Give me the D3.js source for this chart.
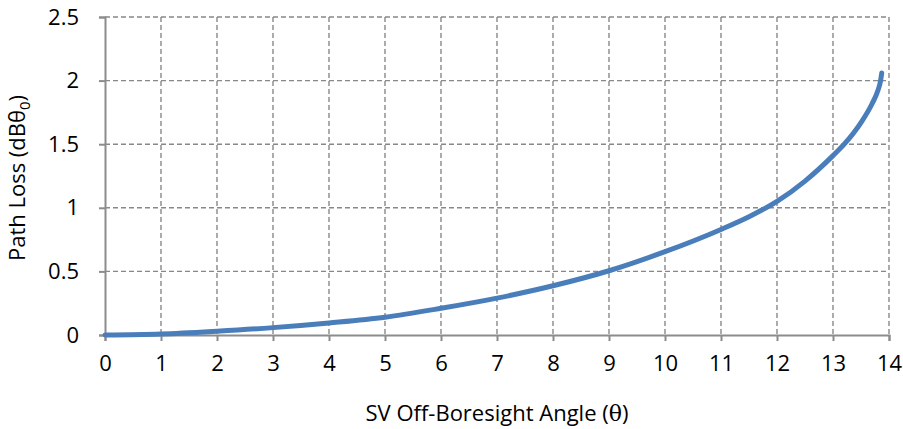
<!DOCTYPE html>
<html>
<head>
<meta charset="utf-8">
<script src="https://cdn.jsdelivr.net/npm/d3@7"></script>
<style>
  body { margin: 0; background: #fff; }
  text { font-family: "Open Sans", sans-serif; fill: #000; }
  .grid line { stroke: #888; stroke-dasharray: 5,3; stroke-width: 1.4px; }
</style>
</head>
<body>
<div id="chart-area"></div>
<script>
// off-boresight angle (deg) vs path loss
var angles = [0, 1, 2, 3, 4, 5, 6, 7, 8, 9, 10, 11, 11.5, 12, 12.5, 13, 13.2, 13.5, 13.7, 13.8, 13.85, 13.87];
var pathLoss = [0, 0.008, 0.03, 0.058, 0.095, 0.14, 0.21, 0.29, 0.387, 0.505, 0.655, 0.83, 0.93, 1.05, 1.21, 1.41, 1.5, 1.67, 1.82, 1.92, 2.0, 2.06];
var xTicks = d3.range(0, 15, 1);
var yTicks = [0, 0.5, 1, 1.5, 2, 2.5];

var margin = { left: 105, right: 14, top: 17, bottom: 94 };
var width = 903 - margin.left - margin.right;
var height = 429 - margin.top - margin.bottom;

var svg = d3.select("#chart-area")
    .append("svg")
        .attr("width", 903)
        .attr("height", 429)
    .append("g")
        .attr("transform", "translate(" + margin.left + "," + margin.top + ")");

var x = d3.scaleLinear().domain([0, 14]).range([0, width]);
var y = d3.scaleLinear().domain([0, 2.5]).range([height, 0]);

// dashed grid, including top and right border
svg.append("g").attr("class", "grid")
    .selectAll("line").data(xTicks.slice(1))
    .enter().append("line")
        .attr("x1", d => x(d)).attr("x2", d => x(d))
        .attr("y1", 0).attr("y2", height);

svg.append("g").attr("class", "grid")
    .selectAll("line").data(yTicks.slice(1))
    .enter().append("line")
        .attr("x1", 0).attr("x2", width)
        .attr("y1", d => y(d)).attr("y2", d => y(d));

var xAxis = svg.append("g")
    .attr("transform", "translate(0," + height + ")")
    .call(d3.axisBottom(x).tickValues(xTicks).tickSize(6).tickPadding(14).tickFormat(d3.format("d")));

var yAxis = svg.append("g")
    .call(d3.axisLeft(y).tickValues(yTicks).tickSize(6).tickPadding(20).tickFormat(d => d));

[xAxis, yAxis].forEach(function(a){
    a.select(".domain").attr("stroke", "#8c8c8c").attr("stroke-width", 2);
    a.selectAll(".tick line").attr("stroke", "#8c8c8c").attr("stroke-width", 2);
    a.selectAll(".tick text").attr("font-size", 22).attr("font-family", "Open Sans, sans-serif").attr("fill", "#000");
});

var data = angles.map((d, i) => ({ a: d, v: pathLoss[i] }));

svg.append("path")
    .datum(data)
    .attr("fill", "none")
    .attr("stroke", "#4a7ebb")
    .attr("stroke-width", 5)
    .attr("stroke-linecap", "round")
    .attr("d", d3.line().x(d => x(d.a)).y(d => y(d.v)).curve(d3.curveMonotoneX));

// axis titles
var xl = svg.append("text")
    .attr("x", width / 2)
    .attr("y", height + 86)
    .attr("text-anchor", "middle")
    .attr("font-size", 22);
xl.append("tspan").text("SV Off-Boresight Angle (");
xl.append("tspan").attr("font-family", "DejaVu Serif, serif").text("θ");
xl.append("tspan").text(")");

var yl = svg.append("text")
    .attr("transform", "translate(" + (-80) + "," + (height / 2 + 2) + ") rotate(-90)")
    .attr("text-anchor", "middle")
    .attr("font-size", 22);
yl.append("tspan").text("Path Loss (dB");
yl.append("tspan").text("θ");
yl.append("tspan").attr("font-size", 15).attr("dy", 5).text("0");
yl.append("tspan").attr("dy", -5).text(")");
</script>
</body>
</html>
